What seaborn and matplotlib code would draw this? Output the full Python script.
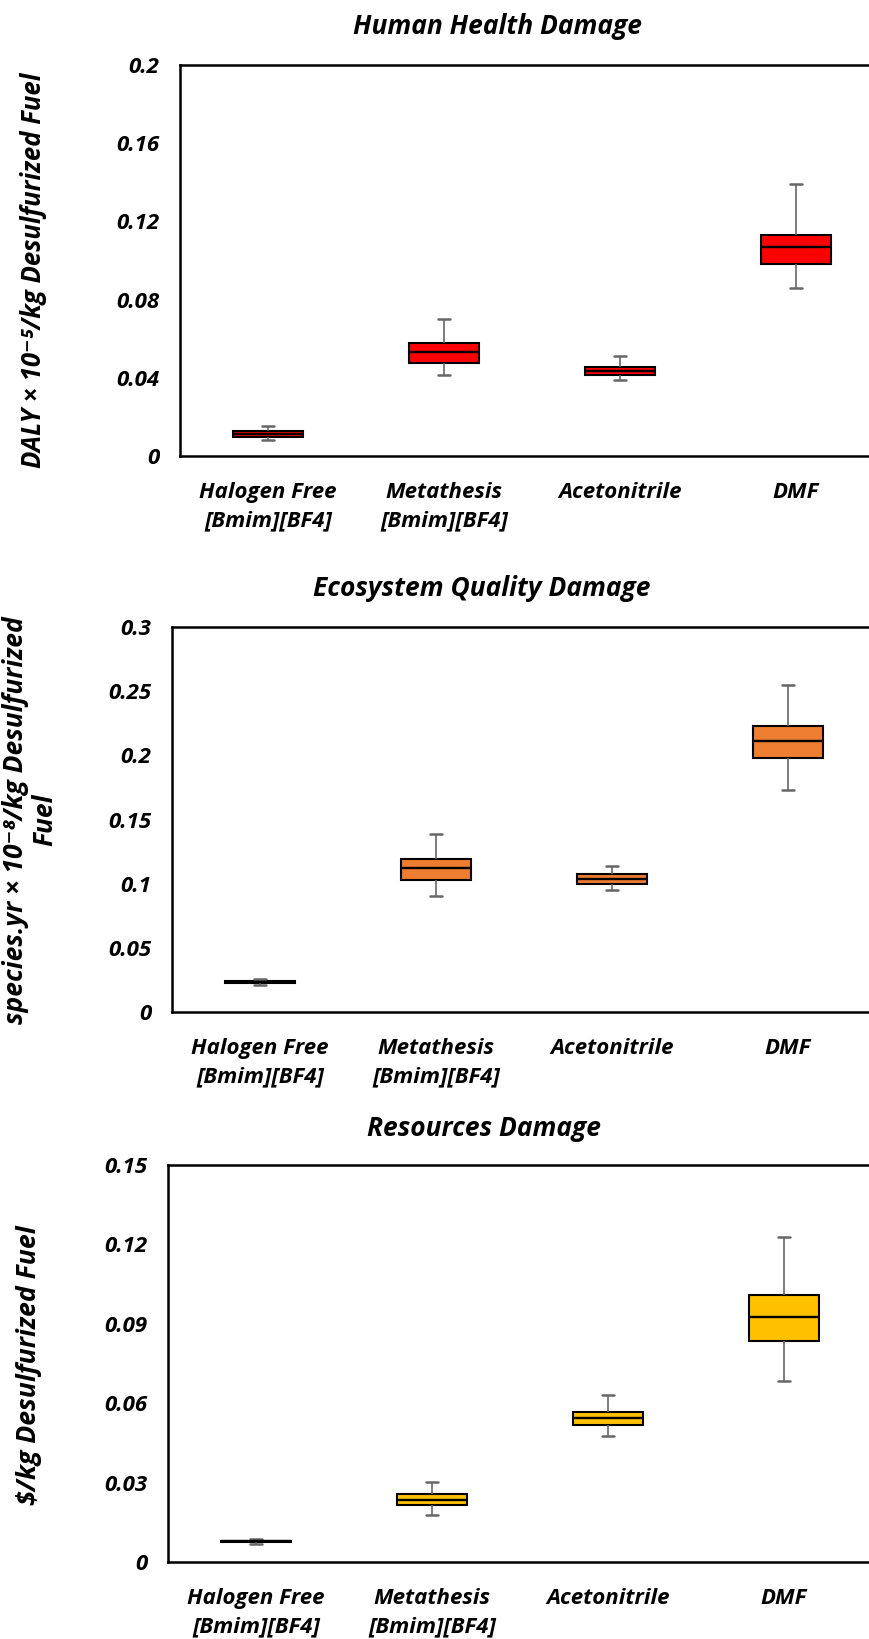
import numpy as np
import pandas as pd
import matplotlib
matplotlib.use("Agg")
import matplotlib.pyplot as plt
import seaborn as sns

# categories shared by all three panels
categories = ["Halogen Free\n[Bmim][BF4]", "Metathesis\n[Bmim][BF4]", "Acetonitrile", "DMF"]

# five-number summaries: [min, q1, median, q3, max]
human_health = [
    [0.0080, 0.0099, 0.0114, 0.0129, 0.0155],
    [0.0416, 0.0477, 0.0533, 0.0579, 0.0702],
    [0.0390, 0.0414, 0.0436, 0.0455, 0.0511],
    [0.0859, 0.0980, 0.1069, 0.1128, 0.1390],
]
ecosystem = [
    [0.0208, 0.0224, 0.0231, 0.0238, 0.0260],
    [0.0906, 0.1031, 0.1122, 0.1195, 0.1384],
    [0.0951, 0.1000, 0.1036, 0.1073, 0.1140],
    [0.1732, 0.1982, 0.2114, 0.2231, 0.2548],
]
resources = [
    [0.0068, 0.0075, 0.0078, 0.0081, 0.0088],
    [0.0179, 0.0214, 0.0235, 0.0257, 0.0302],
    [0.0477, 0.0517, 0.0545, 0.0565, 0.0632],
    [0.0682, 0.0836, 0.0925, 0.1007, 0.1228],
]

hh_ticks = [0, 0.04, 0.08, 0.12, 0.16, 0.2]
hh_labels = ["0", "0.04", "0.08", "0.12", "0.16", "0.2"]
eq_ticks = [0, 0.05, 0.1, 0.15, 0.2, 0.25, 0.3]
eq_labels = ["0", "0.05", "0.1", "0.15", "0.2", "0.25", "0.3"]
rs_ticks = [0, 0.03, 0.06, 0.09, 0.12, 0.15]
rs_labels = ["0", "0.03", "0.06", "0.09", "0.12", "0.15"]

titles = ["Human Health Damage", "Ecosystem Quality Damage", "Resources Damage"]
ylabels = ["DALY \u00d7 10\u207b\u2075/kg Desulfurized Fuel",
           "species.yr \u00d7 10\u207b\u2078/kg Desulfurized\nFuel",
           r"\$/kg Desulfurized Fuel"]
colors = ["#FF0000", "#ED7D31", "#FFC000"]

sns.set_style("white")
plt.rcParams["font.family"] = ["Open Sans", "DejaVu Sans"]
plt.rcParams["font.weight"] = "bold"
plt.rcParams["font.style"] = "italic"
plt.rcParams["text.color"] = "black"
plt.rcParams["xtick.color"] = "black"
plt.rcParams["ytick.color"] = "black"

W, H = 869, 1639
fig = plt.figure(figsize=(W / 100, H / 100), dpi=100)

# axes boxes in pixels: left, top, bottom
layout = [(180, 65, 456), (172, 627, 1012), (168, 1165, 1562)]
title_pos = [(497, 26), (482, 589), (484, 1129)]
ylabel_pos = [(34, 270), (30, 820), (29, 1365)]
ylabel_size = [18.5, 19, 19.2]

panels = [
    (human_health, hh_ticks, hh_labels),
    (ecosystem, eq_ticks, eq_labels),
    (resources, rs_ticks, rs_labels),
]

for i, (stats, ticks, labels) in enumerate(panels):
    left, top, bottom = layout[i]
    ax = fig.add_axes([left / W, 1 - bottom / H, 704 / W, (bottom - top) / H])

    df = pd.DataFrame({
        "category": np.repeat(categories, 5),
        "value": np.concatenate(stats),
    })
    sns.boxplot(data=df, x="category", y="value", ax=ax, order=categories,
                color=colors[i], width=0.4, whis=(0, 100), fliersize=0,
                boxprops=dict(edgecolor="black", linewidth=1.5, facecolor=colors[i]),
                medianprops=dict(color="black", linewidth=1.7),
                whiskerprops=dict(color="#666666", linewidth=1.2),
                capprops=dict(color="#666666", linewidth=1.8),
                capwidths=0.065)

    ax.set_xlim(-0.5, 3.5)
    ax.set_ylim(ticks[0], ticks[-1])
    ax.set_yticks(ticks)
    ax.set_yticklabels(labels)
    ax.set_xlabel("")
    ax.set_ylabel("")
    ax.tick_params(axis="both", length=0, labelsize=16, colors="black")
    ax.tick_params(axis="y", pad=15)
    ax.tick_params(axis="x", pad=19)
    for lab in ax.get_xticklabels() + ax.get_yticklabels():
        lab.set_fontweight("bold")
        lab.set_fontstyle("italic")
        lab.set_linespacing(1.45)
    for sp in ax.spines.values():
        sp.set_visible(True)
        sp.set_color("black")
        sp.set_linewidth(1.8)

    tx, ty = title_pos[i]
    fig.text(tx / W, 1 - ty / H, titles[i], ha="center", va="center",
             fontsize=19, fontweight="bold", fontstyle="italic", color="black")
    lx, ly = ylabel_pos[i]
    fig.text(lx / W, 1 - ly / H, ylabels[i], ha="center", va="center",
             rotation=90, fontsize=ylabel_size[i], fontweight="bold",
             fontstyle="italic", linespacing=1.1, color="black")

fig.savefig("out.png", dpi=100, facecolor="white")
